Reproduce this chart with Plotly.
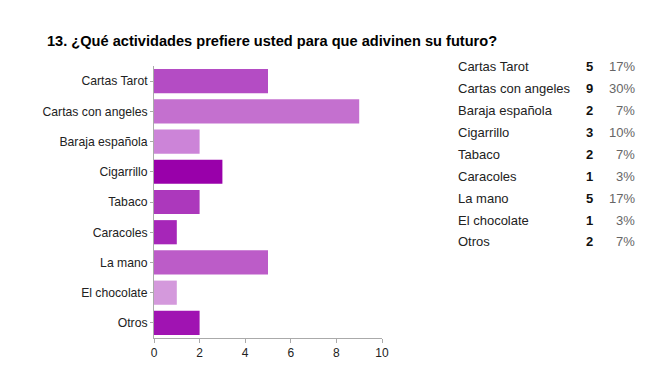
import plotly.graph_objects as go

categories = ["Cartas Tarot", "Cartas con angeles", "Baraja española", "Cigarrillo",
              "Tabaco", "Caracoles", "La mano", "El chocolate", "Otros"]
counts = [5, 9, 2, 3, 2, 1, 5, 1, 2]
percents = ["17%", "30%", "7%", "10%", "7%", "3%", "17%", "3%", "7%"]
x_ticks = [0, 2, 4, 6, 8, 10]
title_text = "13. ¿Qué actividades prefiere usted para que adivinen su futuro?"

bar_colors = ["#b44cc4", "#c470cf", "#cc84d8", "#9900aa", "#ac38bc",
              "#a626b8", "#bc5cc8", "#d499dc", "#a013b2"]

OFF = 8  # page body margin
W, H = 669 - OFF, 379 - OFF
L, R, T, B = 154 - OFF, 382 - OFF, 66 - OFF, 338 - OFF
FONT = "Liberation Sans, Arial, sans-serif"

fig = go.Figure(go.Bar(
    x=counts, y=categories, orientation="h",
    marker=dict(color=bar_colors, line=dict(width=0)),
    hoverinfo="x+y",
))

def px_x(p):
    return (p - OFF - L) / (R - L)

def px_y(p):
    return (B - (p - OFF)) / (B - T)

ann = []
row_top = 66
row_step = 22
for i, (c, n, pc) in enumerate(zip(categories, counts, percents)):
    yy = px_y(row_top + i * row_step)
    ann.append(dict(text=c, x=px_x(456), y=yy, xref="paper", yref="paper",
                    xanchor="left", yanchor="middle", showarrow=False,
                    font=dict(size=13, color="#222", family=FONT)))
    ann.append(dict(text="<b>%d</b>" % n, x=px_x(595), y=yy, xref="paper", yref="paper",
                    xanchor="right", yanchor="middle", showarrow=False,
                    font=dict(size=13, color="#111", family=FONT)))
    ann.append(dict(text=pc, x=px_x(637), y=yy, xref="paper", yref="paper",
                    xanchor="right", yanchor="middle", showarrow=False,
                    font=dict(size=13, color="#666", family=FONT)))

fig.update_layout(
    width=W, height=H,
    margin=dict(l=L, r=W - R, t=T, b=H - B, pad=0),
    paper_bgcolor="white", plot_bgcolor="white",
    showlegend=False,
    bargap=0.2,
    title=dict(text="<b>" + title_text + "</b>", x=(47 - OFF) / W, xref="container", xanchor="left",
               y=1 - (41 - OFF) / H, yref="container", yanchor="middle",
               font=dict(size=14.6, color="#000", family=FONT)),
    xaxis=dict(range=[0, 10], tickvals=x_ticks, showgrid=False, zeroline=False,
               showline=True, linecolor="#aaa", linewidth=1,
               ticks="outside", ticklen=4, tickcolor="#aaa",
               tickfont=dict(size=12, color="#222", family=FONT), fixedrange=True),
    yaxis=dict(autorange="reversed", showgrid=False, zeroline=False,
               showline=True, linecolor="#aaa", linewidth=1,
               ticks="outside", ticklen=3, tickcolor="#aaa",
               tickfont=dict(size=12.2, color="#222", family=FONT), fixedrange=True),
    annotations=ann,
)

fig.write_html("out.html")
